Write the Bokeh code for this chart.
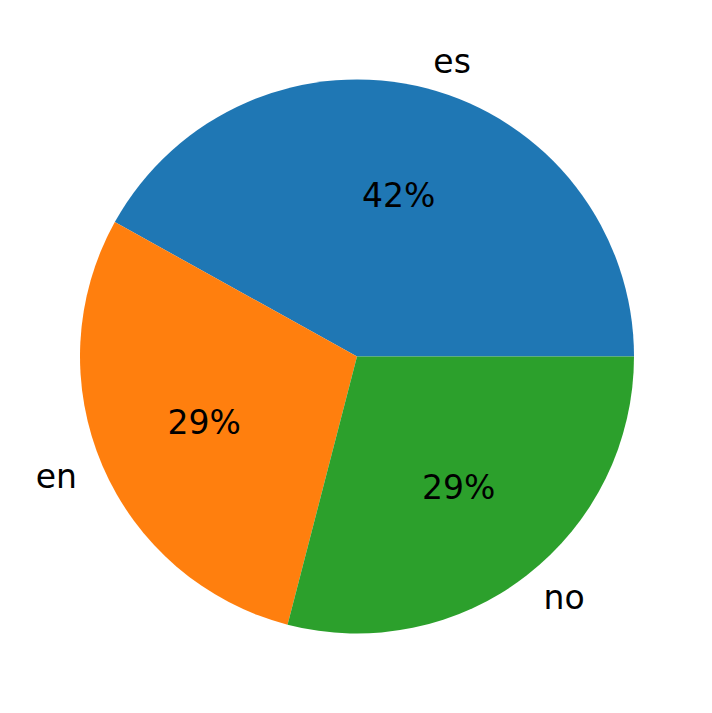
import math
from bokeh.plotting import figure
from bokeh.models import Range1d, ColumnDataSource
from bokeh.core.properties import value
from bokeh.embed import file_html
from bokeh.resources import INLINE

labels = ["es", "en", "no"]
counts = [13, 9, 9]
colors = ["#1f77b4", "#ff7f0e", "#2ca02c"]

W, H = 696, 697
p = figure(width=W, height=H, output_backend="svg", toolbar_location=None,
           x_range=Range1d(8, 704), y_range=Range1d(8, 705), min_border=0)
p.axis.visible = False
p.grid.visible = False
p.outline_line_color = None

cx, cy, r = 364.5, 349, 277
total = sum(counts)
starts, ends = [], []
a = 0.0
for c in counts:
    starts.append(a)
    a += c / total * 2 * math.pi
    ends.append(a)

src = ColumnDataSource(dict(start=starts, end=ends, color=colors))
p.wedge(x=cx, y=cy, radius=r, start_angle="start", end_angle="end",
        fill_color="color", line_color=None, source=src)

lx, ly, la, px, py, pt = [], [], [], [], [], []
for lab, c, s, e in zip(labels, counts, starts, ends):
    m = (s + e) / 2
    lx.append(cx + 1.1 * r * math.cos(m))
    ly.append(cy + 1.1 * r * math.sin(m))
    la.append("left" if math.cos(m) > 0 else "right")
    px.append(cx + 0.6 * r * math.cos(m))
    py.append(cy + 0.6 * r * math.sin(m))
    pt.append(f"{c / total * 100:.0f}%")

p.text(x=lx, y=ly, text=labels, text_align=la, text_baseline="middle",
       text_font=value("DejaVu Sans"), text_font_size="33px", text_color="black")
p.text(x=px, y=py, text=pt, text_align="center", text_baseline="middle",
       text_font=value("DejaVu Sans"), text_font_size="33px", text_color="black")

open("out.html", "w").write(file_html(p, INLINE))
